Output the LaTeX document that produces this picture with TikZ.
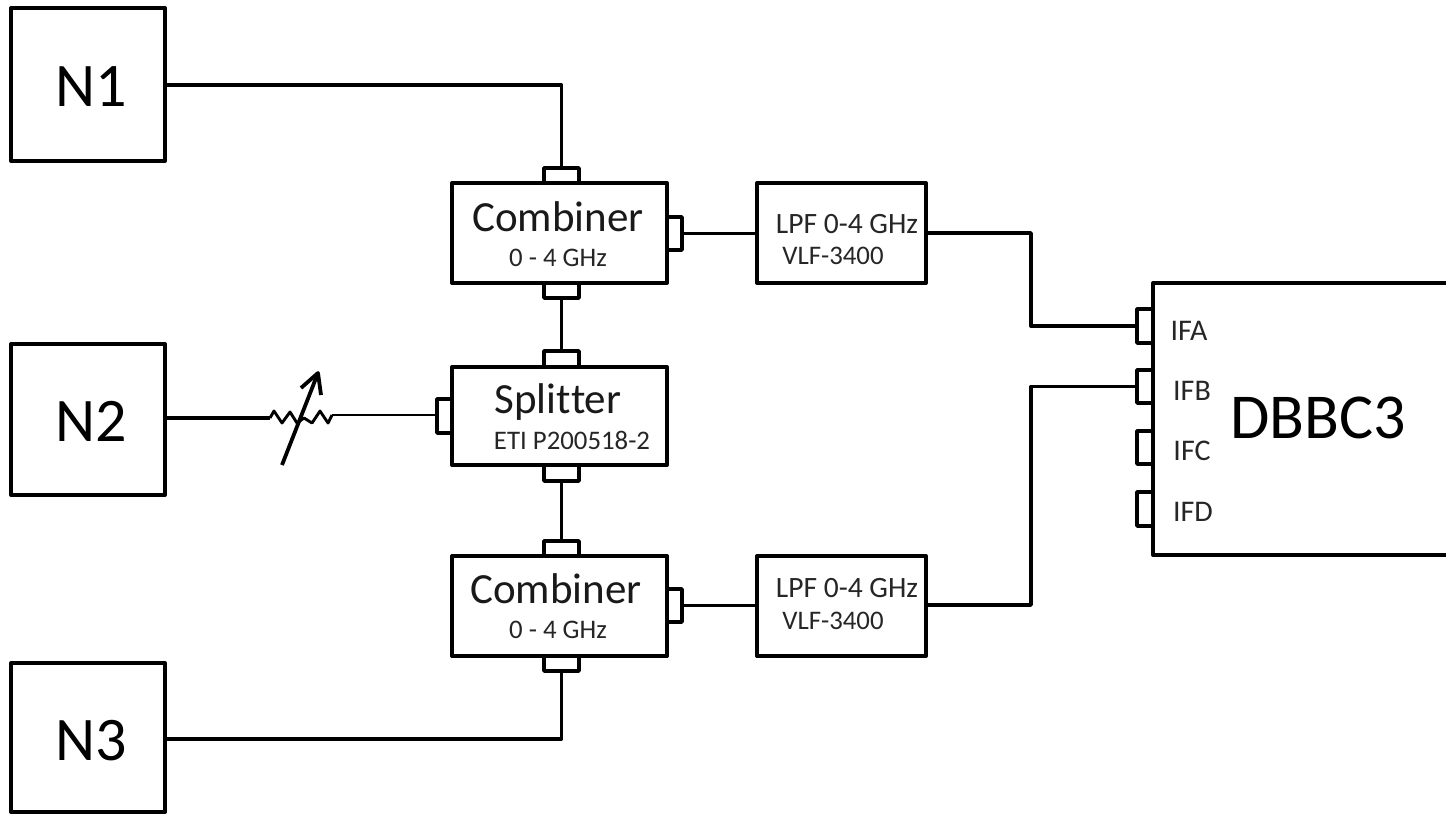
\documentclass[tikz,border=0pt]{standalone}
\usepackage{fontspec}
\setmainfont{Carlito}
\usetikzlibrary{calc}
\tikzset{
  x=1pt,y=-1pt,
  wire/.style={line width=3.4pt,line join=round},
  thinwire/.style={line width=2.9pt,line join=round},
  boxn/.style={draw=black,line width=4pt,fill=white,rectangle,inner sep=0pt,line join=round},
  port/.style={draw=black,line width=3.6pt,fill=white,rectangle,inner sep=0pt,line join=round},
  big/.style={inner sep=0pt,text=black,font=\fontsize{62}{62}\selectfont},
  mid/.style={inner sep=0pt,text=black!90,font=\fontsize{43}{43}\selectfont},
  sub/.style={inner sep=0pt,text=black!85,font=\fontsize{26.8}{27}\selectfont},
  lpf/.style={inner sep=0pt,text=black!85,font=\fontsize{29.5}{30}\selectfont},
  ifl/.style={inner sep=0pt,text=black!85,font=\fontsize{30}{30}\selectfont},
}
\newcommand{\boxat}[6]{\node[#6,minimum width={(#4)-(#2)},minimum height={(#5)-(#3)}] (#1) at ({((#2)+(#4))/2},{((#3)+(#5))/2}) {};}
\newcommand{\portat}[5]{\node[port,minimum width={(#4)-(#2)},minimum height={(#5)-(#3)}] (#1) at ({((#2)+(#4))/2},{((#3)+(#5))/2}) {};}
\begin{document}
\begin{tikzpicture}
\useasboundingbox (0,0) rectangle (1446,814);
\clip (0,0) rectangle (1446,814);
\fill[white] (0,0) rectangle (1446,814);
% ports first, so that boxes cover their inner edge
\portat{c1t}{544}{168}{579}{190}
\portat{c1b}{544}{276}{579}{298}
\portat{c1r}{660}{217}{682}{250}
\portat{st}{544}{351}{579}{373}
\portat{sb}{544}{459}{579}{481}
\portat{sl}{437}{399}{459}{433}
\portat{c2t}{544}{541}{579}{563}
\portat{c2b}{544}{649}{579}{671}
\portat{c2r}{660}{589}{682}{622}
\portat{ifa}{1137}{309}{1159}{343}
\portat{ifb}{1137}{370}{1159}{403}
\portat{ifc}{1137}{431}{1159}{464}
\portat{ifd}{1137}{492}{1159}{526}
% boxes
\boxat{n1}{11}{8}{165}{161}{boxn}
\boxat{n2}{11}{344}{165}{495}{boxn}
\boxat{n3}{11}{663}{165}{812}{boxn}
\boxat{c1}{452}{183}{667}{283}{boxn}
\boxat{sp}{452}{367}{667}{465}{boxn}
\boxat{c2}{452}{556}{667}{656}{boxn}
\boxat{l1}{757}{183}{926}{283}{boxn}
\boxat{l2}{757}{556}{926}{656}{boxn}
\boxat{db}{1153}{283}{1470}{555}{boxn}
% labels
\node[big] (tn1) at (91,87) {N1};
\node[big] (tn2) at (91,421) {N2};
\node[big] (tn3) at (91,741) {N3};
\node[mid] (tc1) at (558,217) {Combiner};
\node[sub] (tc1s) at (558,258) {0 - 4 GHz};
\node[mid] (ts) at (558,402) {Split\kern0pt ter};
\node[sub] (tss) at (572,440) {ETI P200518-2};
\node[mid] (tc2) at (556,589) {Combiner};
\node[sub] (tc2s) at (558,630) {0 - 4 GHz};
\node[lpf] (tl1) at (847,224) {LPF 0-4 GHz};
\node[sub] (tl1s) at (833,256) {VLF-3400};
\node[lpf] (tl2) at (847,588) {LPF 0-4 GHz};
\node[sub] (tl2s) at (833,621) {VLF-3400};
\node[ifl] (tia) at (1189,331) {IFA};
\node[ifl] (tib) at (1192,391) {IFB};
\node[ifl] (tic) at (1192,451) {IFC};
\node[ifl] (tid) at (1193,512) {IFD};
\node[inner sep=0pt,text=black,font=\fontsize{64}{64}\selectfont] (tdb) at (1318,418) {DBBC3};
% connectors
\draw[wire] (n1.east |- 0,85) -| (c1t.north);
\draw[wire] (c1b.south) -- (st.north);
\draw[wire] (sb.south) -- (c2t.north);
\draw[wire] (n3.east |- 0,739) -| (c2b.south);
\draw[wire] (c1r.east) -- (l1.west |- c1r.east);
\draw[wire] (c2r.east) -- (l2.west |- c2r.east);
\draw[wire] (l1.east |- 0,233) -- (1031,233) |- (ifa.west);
\draw[wire] (l2.east |- 0,605) -- (1031,605) |- (ifb.west);
% variable attenuator
\coordinate (ra) at (270,418);
\coordinate (rb) at (332,415);
\coordinate (ah) at (318,373);
\coordinate (at) at (282,465);
\draw[wire] (n2.east |- ra) -- (ra);
\draw[thinwire] (rb) -- (sl.west |- rb);
\draw[thinwire] (ra) -- (274,411) -- (282,423) -- (290,412) -- (297,423) -- (304,418) -- (312,423) -- (320,411) -- (328,423) -- (rb);
\draw[wire,line width=3.8pt] (at) -- (ah);
\draw[wire,line width=3.8pt] (301,388) -- (ah) -- (321,395);
\end{tikzpicture}
\end{document}
